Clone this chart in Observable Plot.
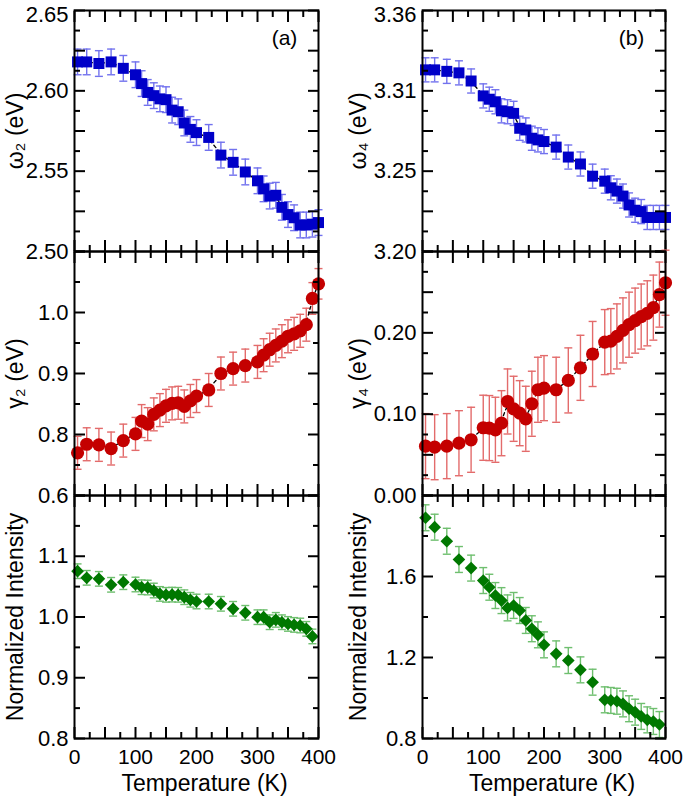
<!DOCTYPE html>
<html>
<head>
<meta charset="utf-8">
<script src="https://cdn.jsdelivr.net/npm/d3@7"></script>
<script src="https://cdn.jsdelivr.net/npm/@observablehq/plot@0.6"></script>
<style>
  body { margin: 0; background: #ffffff; }
  #chart { position: relative; width: 685px; height: 798px; font-family: "Liberation Sans", Arial, sans-serif; }
  #chart svg { position: absolute; left: 0; top: 0; }
</style>
</head>
<body>
<div id="chart"></div>
<script>
// ---------------- data ----------------
const temperature = [5, 20, 40, 60, 80, 100, 110, 120, 130, 140, 150, 160, 170, 180, 190, 200,
  220, 240, 260, 280, 300, 310, 320, 330, 340, 350, 360, 370, 380, 390, 400];

const omega2 = [2.618, 2.618, 2.617, 2.618, 2.614, 2.610, 2.6045, 2.599, 2.597, 2.595, 2.5945, 2.588,
  2.587, 2.580, 2.576, 2.574, 2.571, 2.560, 2.5555, 2.5495, 2.544, 2.539, 2.5345, 2.535, 2.5275,
  2.523, 2.521, 2.5165, 2.5165, 2.517, 2.518];
const omega2Err = [0.008, 0.008, 0.008, 0.008, 0.008, 0.008, 0.008, 0.008, 0.008, 0.008, 0.008, 0.008,
  0.008, 0.008, 0.008, 0.008, 0.008, 0.008, 0.008, 0.008, 0.008, 0.008, 0.008, 0.008, 0.008,
  0.008, 0.008, 0.008, 0.008, 0.008, 0.008];

const omega4 = [3.3206, 3.3206, 3.3196, 3.3186, 3.3132, 3.3033, 3.3011, 3.2994, 3.2934, 3.2928, 3.2917,
  3.2818, 3.2807, 3.2752, 3.2741, 3.2730, 3.2693, 3.2627, 3.2581, 3.2500, 3.2467, 3.2423, 3.2401,
  3.2368, 3.2309, 3.2274, 3.2265, 3.2226, 3.2226, 3.2226, 3.2226];
const omega4Err = [0.008, 0.008, 0.008, 0.008, 0.008, 0.008, 0.008, 0.008, 0.008, 0.008, 0.008, 0.008,
  0.008, 0.008, 0.008, 0.008, 0.008, 0.008, 0.008, 0.008, 0.008, 0.008, 0.008, 0.008, 0.008,
  0.008, 0.008, 0.008, 0.008, 0.008, 0.008];

const gamma2 = [0.770, 0.784, 0.783, 0.777, 0.790, 0.801, 0.822, 0.817, 0.833, 0.840, 0.847, 0.851,
  0.852, 0.846, 0.855, 0.863, 0.873, 0.900, 0.908, 0.913, 0.919, 0.930, 0.939, 0.946, 0.953,
  0.961, 0.965, 0.970, 0.980, 1.023, 1.047];
const gamma2Err = [0.027, 0.027, 0.027, 0.027, 0.027, 0.027, 0.027, 0.027, 0.027, 0.027, 0.027, 0.027,
  0.027, 0.027, 0.027, 0.027, 0.027, 0.027, 0.027, 0.027, 0.027, 0.027, 0.027, 0.027, 0.027,
  0.027, 0.027, 0.027, 0.027, 0.026, 0.025];

const gamma4 = [0.0607, 0.0594, 0.0607, 0.0643, 0.0685, 0.0833, 0.0829, 0.0808, 0.0889, 0.1156, 0.1066,
  0.1012, 0.0943, 0.1128, 0.130, 0.132, 0.130, 0.1415, 0.157, 0.174, 0.1886, 0.1898, 0.1956,
  0.203, 0.210, 0.215, 0.220, 0.224, 0.231, 0.247, 0.2616];
const gamma4Err = [0.040, 0.040, 0.040, 0.040, 0.040, 0.040, 0.040, 0.040, 0.040, 0.040, 0.040, 0.040,
  0.040, 0.040, 0.040, 0.040, 0.040, 0.040, 0.040, 0.040, 0.040, 0.040, 0.040, 0.040, 0.040,
  0.040, 0.040, 0.040, 0.040, 0.040, 0.040];

const intensity2 = [1.0754, 1.0645, 1.0628, 1.053, 1.0573, 1.0535, 1.049, 1.0485, 1.0436, 1.038, 1.0365,
  1.0368, 1.0365, 1.0326, 1.0283, 1.0255, 1.0255, 1.0217, 1.0135, 1.0069, 0.9997, 0.9997, 0.9914,
  0.9953, 0.9914, 0.9886, 0.987, 0.986, 0.9805, 0.968];
const intensity2Err = [0.012, 0.012, 0.012, 0.012, 0.012, 0.012, 0.012, 0.012, 0.012, 0.012, 0.012,
  0.012, 0.012, 0.012, 0.012, 0.012, 0.012, 0.012, 0.012, 0.012, 0.012, 0.012, 0.012, 0.012,
  0.012, 0.012, 0.012, 0.012, 0.012, 0.012];

const intensity4 = [1.890, 1.8435, 1.774, 1.684, 1.6415, 1.580, 1.547, 1.506, 1.481, 1.445, 1.457,
  1.432, 1.383, 1.342, 1.312, 1.2625, 1.218, 1.185, 1.139, 1.078, 0.991, 0.988, 0.984, 0.971,
  0.947, 0.930, 0.909, 0.892, 0.884, 0.869];
const intensity4Err = [0.064, 0.064, 0.064, 0.064, 0.064, 0.064, 0.064, 0.064, 0.064, 0.064, 0.064,
  0.064, 0.064, 0.064, 0.064, 0.064, 0.064, 0.064, 0.064, 0.064, 0.064, 0.064, 0.064, 0.064,
  0.064, 0.064, 0.064, 0.064, 0.064, 0.064];

// tick labels
const xTickValues = [0, 100, 200, 300, 400];
const xTickLabels = ["0", "100", "200", "300", "400"];
const omega2TickValues = [2.50, 2.55, 2.60, 2.65];
const omega2TickLabels = ["2.50", "2.55", "2.60", "2.65"];
const omega4TickValues = [3.20, 3.20 + 0.16 / 3, 3.20 + 0.32 / 3, 3.36];
const omega4TickLabels = ["3.20", "3.25", "3.31", "3.36"];
const gamma2TickValues = [0.7, 0.8, 0.9, 1.0];
const gamma2TickLabels = ["0.6", "0.8", "0.9", "1.0"];
const gamma4TickValues = [0.0, 0.1, 0.2];
const gamma4TickLabels = ["0.00", "0.10", "0.20"];
const int2TickValues = [0.8, 0.9, 1.0, 1.1];
const int2TickLabels = ["0.8", "0.9", "1.0", "1.1"];
const int4TickValues = [0.8, 1.2, 1.6];
const int4TickLabels = ["0.8", "1.2", "1.6"];

// ---------------- layout ----------------
const W = 685, H = 798;
const cols = [[74, 318], [422, 665]];
const rows = [[10, 251], [251, 495], [495, 738]];

const capSymbol = {
  draw(context, size) {
    const w = Math.sqrt(size / Math.PI);
    context.moveTo(-w, 0);
    context.lineTo(w, 0);
  }
};

function toRows(values, errors) {
  return values.map((v, i) => ({T: temperature[i], v, e: errors[i]}));
}

function panel(cfg) {
  const [x0, x1] = cols[cfg.col];
  const [y0, y1] = rows[cfg.row];
  const [lo, hi] = cfg.yDomain;
  const n = cfg.nLong;
  const yLong = d3.range(n + 1).map(i => lo + (i * (hi - lo)) / n);
  const yShort = d3.range(n).map(i => lo + ((i + 0.5) * (hi - lo)) / n);
  const xLong = d3.range(0, 401, 50);
  const xShort = d3.range(25, 400, 50);
  const labelMap = new Map(cfg.tickValues.map((d, i) => [d, cfg.tickLabels[i]]));
  const xLabelMap = new Map(xTickValues.map((d, i) => [d, xTickLabels[i]]));
  const data = cfg.data;

  const tickOpts = {strokeWidth: 2, fill: "none", label: null};
  const marks = [];
  // error bars
  marks.push(Plot.ruleX(data, {x: "T", y1: d => d.v - d.e, y2: d => d.v + d.e, stroke: cfg.errColor, strokeWidth: 1.4}));
  marks.push(Plot.dot(data, {x: "T", y: d => d.v - d.e, symbol: capSymbol, r: 4, stroke: cfg.errColor, strokeWidth: 1.4, fill: "none"}));
  marks.push(Plot.dot(data, {x: "T", y: d => d.v + d.e, symbol: capSymbol, r: 4, stroke: cfg.errColor, strokeWidth: 1.4, fill: "none"}));
  if (cfg.fit) {
    marks.push(Plot.line(data, {x: "T", y: "v", curve: "basis", stroke: "black", strokeWidth: 1.3, strokeDasharray: "3,3"}));
  }
  marks.push(Plot.dot(data, {x: "T", y: "v", symbol: cfg.symbol, r: cfg.r, fill: cfg.color, stroke: "none"}));
  // frame and inward ticks
  marks.push(Plot.frame({stroke: "black", strokeWidth: 2}));
  for (const anchor of ["left", "right"]) {
    marks.push(Plot.axisY(yLong, {anchor, tickSize: -11, ...tickOpts}));
    marks.push(Plot.axisY(yShort, {anchor, tickSize: -6, ...tickOpts}));
  }
  for (const anchor of ["top", "bottom"]) {
    marks.push(Plot.axisX(xLong, {anchor, tickSize: -11, ...tickOpts}));
    marks.push(Plot.axisX(xShort, {anchor, tickSize: -6, ...tickOpts}));
  }
  // tick labels (the top-most label of the top row is nudged to stay inside the page)
  const topValue = hi;
  const inner = cfg.tickValues.filter(d => !(cfg.row === 0 && d === topValue));
  const edge = cfg.tickValues.filter(d => cfg.row === 0 && d === topValue);
  marks.push(Plot.axisY(inner, {anchor: "left", tickSize: 0, tickPadding: 6, fontSize: 22,
    tickFormat: d => labelMap.get(d), label: null}));
  if (edge.length) {
    marks.push(Plot.axisY(edge, {anchor: "left", tickSize: 0, tickPadding: 6, fontSize: 22, dy: 4,
      tickFormat: d => labelMap.get(d), label: null}));
  }
  if (cfg.row === 2) {
    marks.push(Plot.axisX(xTickValues, {anchor: "bottom", tickSize: 0, tickPadding: 11, fontSize: 21,
      tickFormat: d => xLabelMap.get(d), label: null}));
    marks.push(Plot.text(["Temperature (K)"], {frameAnchor: "bottom", dx: 8, dy: 45, fontSize: 23,
      text: d => d, lineAnchor: "middle", textAnchor: "middle"}));
  }
  // y title
  marks.push(Plot.text([cfg.title], {frameAnchor: "left", dx: cfg.col === 0 ? -59 : -64, rotate: -90,
    fontSize: 23, text: d => d, lineAnchor: "middle", textAnchor: "middle"}));
  if (cfg.tag) {
    marks.push(Plot.text([cfg.tag], {frameAnchor: "top-right", dx: -34, dy: 28, fontSize: 21,
      text: d => d, lineAnchor: "middle", textAnchor: "middle"}));
  }

  return Plot.plot({
    width: W,
    height: H,
    marginLeft: x0,
    marginRight: W - x1,
    marginTop: y0,
    marginBottom: H - y1,
    x: {domain: [0, 400], axis: null},
    y: {domain: cfg.yDomain, axis: null},
    style: {background: "transparent", fontFamily: "Liberation Sans, Arial, sans-serif", color: "black", overflow: "visible"},
    marks
  });
}

const blue = "#0000c8", blueErr = "#7272ee";
const red = "#c40000", redErr = "#e36b6b";
const green = "#007800", greenErr = "#6fbf6f";

const panels = [
  {col: 0, row: 0, data: toRows(omega2, omega2Err), yDomain: [2.50, 2.65], nLong: 6,
    tickValues: omega2TickValues, tickLabels: omega2TickLabels, color: blue, errColor: blueErr,
    symbol: "square", r: 6.2, title: "ω₂ (eV)", tag: "(a)", fit: true},
  {col: 1, row: 0, data: toRows(omega4, omega4Err), yDomain: [3.20, 3.36], nLong: 6,
    tickValues: omega4TickValues, tickLabels: omega4TickLabels, color: blue, errColor: blueErr,
    symbol: "square", r: 6.2, title: "ω₄ (eV)", tag: "(b)", fit: true},
  {col: 0, row: 1, data: toRows(gamma2, gamma2Err), yDomain: [0.7, 1.1], nLong: 4,
    tickValues: gamma2TickValues, tickLabels: gamma2TickLabels, color: red, errColor: redErr,
    symbol: "circle", r: 6.6, title: "γ₂ (eV)", fit: true},
  {col: 1, row: 1, data: toRows(gamma4, gamma4Err), yDomain: [0, 0.30], nLong: 6,
    tickValues: gamma4TickValues, tickLabels: gamma4TickLabels, color: red, errColor: redErr,
    symbol: "circle", r: 6.6, title: "γ₄ (eV)", fit: true},
  {col: 0, row: 2, data: toRows(intensity2, intensity2Err), yDomain: [0.8, 1.2], nLong: 4,
    tickValues: int2TickValues, tickLabels: int2TickLabels, color: green, errColor: greenErr,
    symbol: "diamond2", r: 5.7, title: "Normalized Intensity", fit: false},
  {col: 1, row: 2, data: toRows(intensity4, intensity4Err), yDomain: [0.8, 2.0], nLong: 3,
    tickValues: int4TickValues, tickLabels: int4TickLabels, color: green, errColor: greenErr,
    symbol: "diamond2", r: 5.7, title: "Normalized Intensity", fit: false}
];

const chart = document.getElementById("chart");
for (const p of panels) chart.appendChild(panel(p));
</script>
</body>
</html>
